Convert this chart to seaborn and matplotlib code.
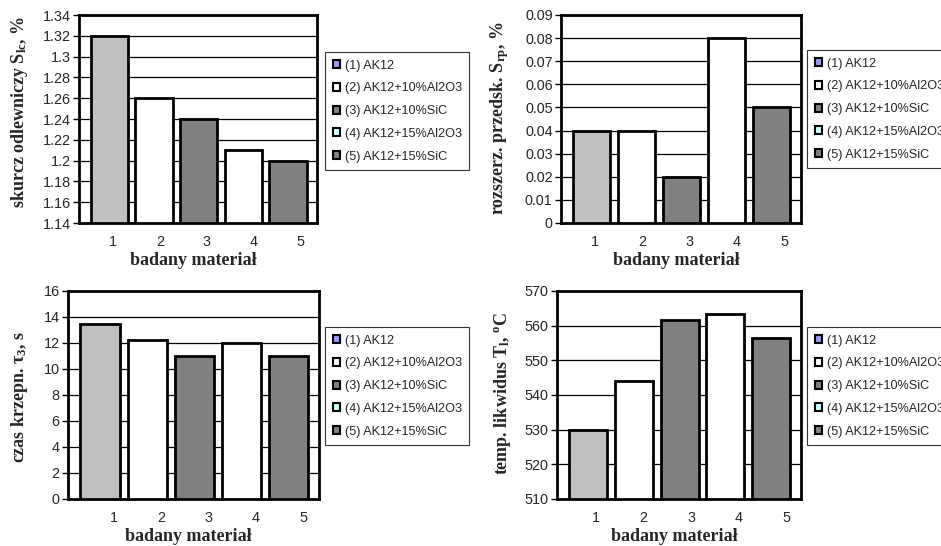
import numpy as np
import pandas as pd
import seaborn as sns
import matplotlib.pyplot as plt
from matplotlib.patches import Patch

sns.set_style("white")
plt.rcParams['font.family'] = ['Liberation Sans', 'DejaVu Sans']
plt.rcParams['mathtext.fontset'] = 'custom'
plt.rcParams['mathtext.rm'] = 'Liberation Serif:bold'
plt.rcParams['mathtext.it'] = 'Liberation Serif:bold'
plt.rcParams['mathtext.bf'] = 'Liberation Serif:bold'

# data
materials = ['1', '2', '3', '4', '5']
series_names = ['(1) AK12', '(2) AK12+10%Al2O3', '(3) AK12+10%SiC',
                '(4) AK12+15%Al2O3', '(5) AK12+15%SiC']
skurcz = [1.32, 1.26, 1.24, 1.21, 1.20]
rozszerz = [0.04, 0.04, 0.02, 0.08, 0.05]
czas = [13.5, 12.2, 11.0, 12.0, 11.0]
temp = [530, 544, 561.5, 563.5, 556.5]

bar_colors = ['#C0C0C0', '#FFFFFF', '#808080', '#FFFFFF', '#808080']
legend_colors = ['#9999FF', '#FFFFFF', '#808080', '#CCFFFF', '#808080']

W, H = 941, 546
fig = plt.figure(figsize=(W / 100, H / 100), dpi=100)


def px_axes(left, right, top, bottom):
    return fig.add_axes([left / W, 1 - bottom / H, (right - left) / W, (bottom - top) / H])


panels = [
    # values, ylabel, ylim, step, axes box (px), legend pos (px),
    # ylabel coords, x tick label shift (start, growth)
    (skurcz, r'skurcz odlewniczy S$_{\mathrm{lc}}$, %', (1.14, 1.34), 0.02,
     (79, 317, 15, 223), (325, 52), (-0.206, 0.535), (0.08, 0.05)),
    (rozszerz, r'rozszerz. przedsk. S$_{\mathrm{rp}}$, %', (0, 0.09), 0.01,
     (561, 801, 15, 223), (807, 50), (-0.208, 0.505), (0.08, 0.05)),
    (czas, r'czas krzepn. τ$_{\mathrm{3}}$, s', (0, 16), 2,
     (68, 319, 291, 499), (325, 327), (-0.151, 0.49), (0.29, 0.005)),
    (temp, r'temp. likwidus T$_{\mathrm{l}}$, $^{\mathrm{o}}$C', (510, 570), 10,
     (557, 801, 291, 499), (807, 327), (-0.18, 0.51), (0.17, 0.04)),
]

for vals, ylab, ylim, step, box, legpos, ycoords, shift in panels:
    ax = px_axes(*box)
    df = pd.DataFrame({'material': materials, 'value': vals})
    # bars start from the axis minimum like in the excel chart
    df['height'] = df['value'] - ylim[0]
    sns.barplot(data=df, x='material', y='height', hue='material',
                palette=bar_colors, edgecolor='black', linewidth=2,
                width=0.83, bottom=ylim[0], legend=False, ax=ax, zorder=3)
    ax.set_xlim(-0.68, 4.65)
    ax.set_ylim(*ylim)
    ticks = np.arange(ylim[0], ylim[1] + step / 2, step)
    ax.set_yticks(ticks)
    ax.set_yticklabels(['%g' % round(t, 2) for t in ticks])
    idx = np.arange(len(materials))
    ax.set_xticks(idx + shift[0] + shift[1] * idx)
    ax.set_xticklabels(materials)
    ax.yaxis.grid(True, color='black', linewidth=0.9, zorder=0)
    ax.set_axisbelow(True)
    for s in ax.spines.values():
        s.set_color('black')
        s.set_linewidth(2)
        s.set_visible(True)
    ax.tick_params(axis='y', which='both', left=True, length=4, width=1,
                   color='black', labelsize=10.4, pad=2, direction='out')
    ax.tick_params(axis='x', bottom=False, labelsize=10.4, pad=5)
    ax.set_xlabel('badany materiał', family='Liberation Serif',
                  fontweight='bold', fontsize=13)
    ax.xaxis.set_label_coords(0.48, -29 / 208)
    ax.set_ylabel(ylab, family='Liberation Serif', fontweight='bold',
                  fontsize=13)
    ax.yaxis.set_label_coords(*ycoords)

    handles = [Patch(facecolor=c, edgecolor='black', linewidth=1.5)
               for c in legend_colors]
    leg = fig.legend(handles, series_names, loc='upper left',
                     bbox_to_anchor=(legpos[0] / W, 1 - legpos[1] / H),
                     bbox_transform=fig.transFigure, borderaxespad=0,
                     fontsize=9.1, frameon=True, fancybox=False,
                     handlelength=0.6, handleheight=0.6, handletextpad=0.35,
                     labelspacing=0.85, borderpad=0.6)
    leg.get_frame().set_edgecolor('black')
    leg.get_frame().set_linewidth(0.8)

fig.savefig('out.png', dpi=100)
